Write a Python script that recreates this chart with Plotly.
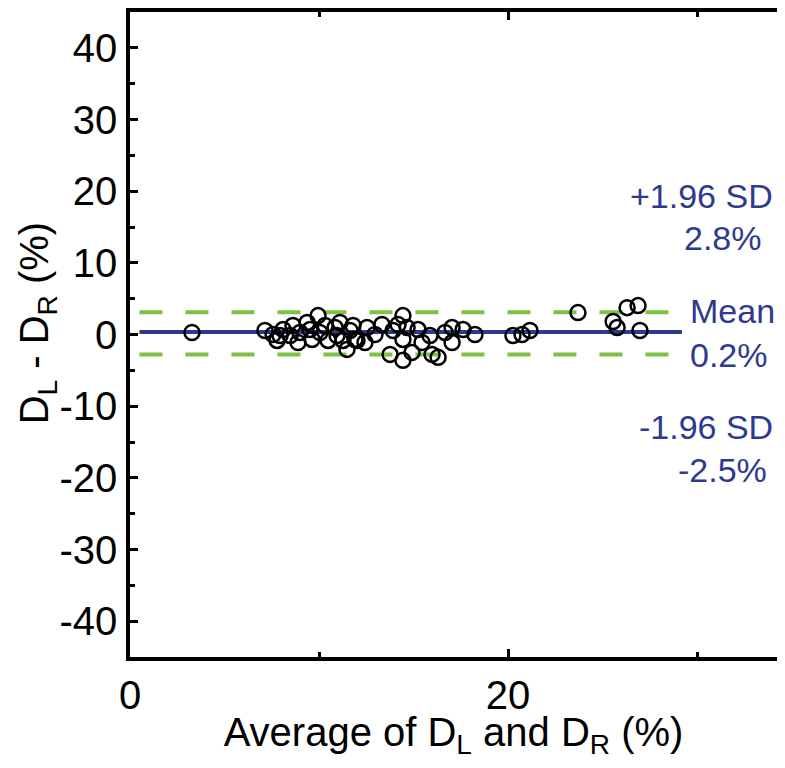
import plotly.graph_objects as go

# Bland-Altman data
avg_vals = [3.28, 7.14, 7.57, 7.78, 8.10, 8.47, 8.62, 8.99, 8.89, 9.37, 9.63, 9.95, 10.05, 10.32,
            10.48, 10.95, 11.11, 11.48, 11.64, 11.90, 11.80, 12.01, 12.43, 12.54, 13.33, 13.92,
            14.44, 14.44, 14.66, 13.76, 14.44, 14.92, 15.24, 15.45, 15.87, 15.98, 16.30, 17.04,
            17.04, 17.62, 18.25, 20.26, 20.74, 21.16, 23.70, 25.56, 25.77, 26.30, 26.88, 26.98,
            7.94, 9.52, 10.85, 11.27, 12.96, 14.18, 16.67]
diff_vals = [0.28, 0.56, 0.0, -0.83, 0.69, -0.14, 1.25, 0.28, -1.11, 1.67, -0.69, 2.64, 0.28, 1.25,
             -0.83, -0.14, 1.67, -2.08, 0.56, -0.69, 1.25, -0.83, -1.11, 0.97, 1.39, 0.56,
             2.64, -0.69, 0.97, -2.78, -3.61, -2.5, 0.69, -1.11, -0.14, -2.78, -3.19, 0.97,
             -1.11, 0.69, 0.0, -0.14, 0.0, 0.56, 3.06, 1.81, 0.97, 3.75, 4.03, 0.56,
             -0.14, 0.69, 0.97, -0.83, 0.0, 1.39, 0.28]

line_x = [0.5, 29.2]
mean_y = 0.35
upper_y = 3.1
lower_y = -2.8

y_tickvals = [-40, -30, -20, -10, 0, 10, 20, 30, 40]
y_ticktext = ["-40", "-30", "-20", "-10", "0", "10", "20", "30", "40"]
x_tickvals = [0, 20]
x_ticktext = ["0", "20"]

ann_texts = ["+1.96 SD", "2.8%", "Mean", "0.2%", "-1.96 SD", "-2.5%"]
ann_x = [26.35, 29.2, 29.5, 29.5, 26.8, 28.9]
ann_y = [19.3, 13.5, 3.3, -2.8, -12.9, -18.9]

blue = "#2E3A8F"
green = "#7DC242"
font_family = "Arial, Liberation Sans, sans-serif"

fig = go.Figure()
for yv in (upper_y, lower_y):
    fig.add_trace(go.Scatter(x=line_x, y=[yv, yv], mode="lines",
                             line=dict(color=green, width=4, dash="23px,23px"),
                             showlegend=False, hoverinfo="skip"))
fig.add_trace(go.Scatter(x=line_x, y=[mean_y, mean_y], mode="lines",
                         line=dict(color=blue, width=4), showlegend=False, hoverinfo="skip"))
fig.add_trace(go.Scatter(x=avg_vals, y=diff_vals, mode="markers",
                         marker=dict(symbol="circle-open", size=15, color="black",
                                     line=dict(width=2.5, color="black")),
                         showlegend=False))

for t, xv, yv in zip(ann_texts, ann_x, ann_y):
    fig.add_annotation(x=xv, y=yv, text=t, showarrow=False, xanchor="left", yanchor="middle",
                       font=dict(family=font_family, size=34, color=blue))

# y-axis title as rotated annotation
fig.add_annotation(xref="paper", yref="paper", x=-0.144, y=0.517, textangle=-90,
                   text="D<sub>L</sub> - D<sub>R</sub> (%)", showarrow=False,
                   xanchor="center", yanchor="middle",
                   font=dict(family=font_family, size=40, color="black"))

axis_common = dict(showgrid=False, zeroline=False, showline=True, linecolor="black", linewidth=3.5,
                   ticks="inside", tickcolor="black", tickwidth=3, ticklen=8,
                   tickfont=dict(family=font_family, size=40, color="black"))

fig.update_xaxes(range=[0, 34.23], tickvals=x_tickvals, ticktext=x_ticktext, mirror="ticks",
                 minor=dict(tickvals=[10, 30], ticks="inside", ticklen=5, tickwidth=3, tickcolor="black"),
                 ticklabelstandoff=0,
                 title=dict(text="Average of D<sub>L</sub> and D<sub>R</sub> (%)",
                            font=dict(family=font_family, size=40, color="black"), standoff=8),
                 **axis_common)
fig.update_yaxes(range=[-45, 45], tickvals=y_tickvals, ticktext=y_ticktext, mirror=False,
                 minor=dict(tickvals=[-35, -25, -15, -5, 5, 15, 25, 35], ticks="inside", ticklen=5,
                            tickwidth=3, tickcolor="black"),
                 ticklabelstandoff=1,
                 **axis_common)

fig.update_layout(width=769, height=752, margin=dict(l=122, r=0, t=1, b=103),
                  plot_bgcolor="white", paper_bgcolor="white")

fig.write_html("out.html")
